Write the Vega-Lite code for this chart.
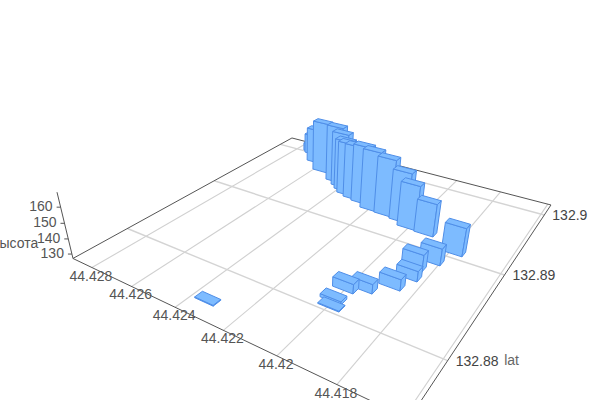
{"$schema":"https://vega.github.io/schema/vega-lite/v6.json","width":600,"height":400,"padding":0,"autosize":{"type":"none"},"config":{"view":{"stroke":null},"axis":{"disable":true},"legend":{"disable":true},"text":{"font":"Liberation Sans"}},
"datasets":{
"bars":[
{"lng":44.42724,"lat":132.90051,"h":133},{"lng":44.42705,"lat":132.90014,"h":142},{"lng":44.42643,"lat":132.89868,"h":152.6},{"lng":44.42564,"lat":132.8973,"h":164},{"lng":44.42457,"lat":132.89619,"h":167.5},{"lng":44.42411,"lat":132.89559,"h":166},{"lng":44.4238,"lat":132.89508,"h":163.3},{"lng":44.4235,"lat":132.89457,"h":164},{"lng":44.42308,"lat":132.89422,"h":164.9},{"lng":44.42262,"lat":132.89397,"h":167},{"lng":44.422,"lat":132.89332,"h":168},{"lng":44.42132,"lat":132.89322,"h":166},{"lng":44.42058,"lat":132.893,"h":161},{"lng":44.42007,"lat":132.89238,"h":157},{"lng":44.41932,"lat":132.89226,"h":149},{"lng":44.4179,"lat":132.89089,"h":145.6},{"lng":44.41833,"lat":132.88895,"h":138},{"lng":44.4187,"lat":132.88757,"h":137.8},{"lng":44.41859,"lat":132.88631,"h":133.7},{"lng":44.41884,"lat":132.88476,"h":134.2},{"lng":44.41953,"lat":132.88346,"h":133},{"lng":44.42005,"lat":132.88278,"h":133},{"lng":44.42008,"lat":132.88135,"h":129},{"lng":44.41995,"lat":132.88068,"h":127.5},{"lng":44.42343,"lat":132.87678,"h":127.5}
],
"ground":[
{"g":"l428","kind":"lnggrid","lng":44.428,"lat":132.875},{"g":"l428","kind":"lnggrid","lng":44.428,"lat":132.90203},
{"g":"l426","kind":"lnggrid","lng":44.426,"lat":132.875},{"g":"l426","kind":"lnggrid","lng":44.426,"lat":132.90203},
{"g":"l424","kind":"lnggrid","lng":44.424,"lat":132.875},{"g":"l424","kind":"lnggrid","lng":44.424,"lat":132.90203},
{"g":"l422","kind":"lnggrid","lng":44.422,"lat":132.875},{"g":"l422","kind":"lnggrid","lng":44.422,"lat":132.90203},
{"g":"l42","kind":"lnggrid","lng":44.42,"lat":132.875},{"g":"l42","kind":"lnggrid","lng":44.42,"lat":132.90203},
{"g":"l418","kind":"lnggrid","lng":44.418,"lat":132.875},{"g":"l418","kind":"lnggrid","lng":44.418,"lat":132.90203},
{"g":"l416","kind":"lnggrid","lng":44.416,"lat":132.875},{"g":"l416","kind":"lnggrid","lng":44.416,"lat":132.90203},
{"g":"a88","kind":"latgrid","lng":44.42903,"lat":132.88},{"g":"a88","kind":"latgrid","lng":44.41587,"lat":132.88},
{"g":"a89","kind":"latgrid","lng":44.42903,"lat":132.89},{"g":"a89","kind":"latgrid","lng":44.41587,"lat":132.89},
{"g":"a90","kind":"latgrid","lng":44.42903,"lat":132.9},{"g":"a90","kind":"latgrid","lng":44.41587,"lat":132.9},
{"g":"frame","kind":"frame","lng":44.41587,"lat":132.90203},{"g":"frame","kind":"frame","lng":44.42903,"lat":132.90203},{"g":"frame","kind":"frame","lng":44.42903,"lat":132.875},{"g":"frame","kind":"frame","lng":44.41587,"lat":132.875},{"g":"frame","kind":"frame","lng":44.41587,"lat":132.90203}
],
"lngTicks":[{"lng":44.428,"label":"44.428"},{"lng":44.426,"label":"44.426"},{"lng":44.424,"label":"44.424"},{"lng":44.422,"label":"44.422"},{"lng":44.42,"label":"44.42"},{"lng":44.418,"label":"44.418"}],
"latTicks":[{"lat":132.88,"label":"132.88"},{"lat":132.89,"label":"132.89"},{"lat":132.9,"label":"132.9"}],
"hTicks":[{"h":130,"label":"130"},{"h":140,"label":"140"},{"h":150,"label":"150"},{"h":160,"label":"160"}]
},
"layer":[
{"data":{"name":"ground"},"transform":[{"filter":"datum.kind=='lnggrid'"},{"calculate":"0.078+76*(44.428-datum.lng)","as":"s"},{"calculate":"0.185+37*(datum.lat-132.88)","as":"t"},{"calculate":"1-0.29346*datum.s+0.45819*datum.t","as":"w"},{"calculate":"(215.97*datum.s+352.79*datum.t+73)/datum.w","as":"px"},{"calculate":"(37.54*datum.s-57.27*datum.t+258.5)/datum.w","as":"py"}],"mark":{"type":"line","stroke":"#d0d0d0","strokeWidth":1.1,"clip":true},"encoding":{"x":{"field":"px","type":"quantitative","scale":{"domain":[0,600],"range":[0,600]},"axis":null},"y":{"field":"py","type":"quantitative","scale":{"domain":[0,400],"range":[0,400]},"axis":null},"detail":{"field":"g"}}},
{"data":{"name":"ground"},"transform":[{"filter":"datum.kind=='latgrid'"},{"calculate":"0.078+76*(44.428-datum.lng)","as":"s"},{"calculate":"0.185+37*(datum.lat-132.88)","as":"t"},{"calculate":"1-0.29346*datum.s+0.45819*datum.t","as":"w"},{"calculate":"(215.97*datum.s+352.79*datum.t+73)/datum.w","as":"px"},{"calculate":"(37.54*datum.s-57.27*datum.t+258.5)/datum.w","as":"py"}],"mark":{"type":"line","stroke":"#d4d4d4","strokeWidth":1.4,"clip":true},"encoding":{"x":{"field":"px","type":"quantitative","scale":{"domain":[0,600],"range":[0,600]},"axis":null},"y":{"field":"py","type":"quantitative","scale":{"domain":[0,400],"range":[0,400]},"axis":null},"detail":{"field":"g"}}},
{"data":{"name":"ground"},"transform":[{"filter":"datum.kind=='frame'"},{"window":[{"op":"row_number","as":"n"}]},{"calculate":"0.078+76*(44.428-datum.lng)","as":"s"},{"calculate":"0.185+37*(datum.lat-132.88)","as":"t"},{"calculate":"1-0.29346*datum.s+0.45819*datum.t","as":"w"},{"calculate":"(215.97*datum.s+352.79*datum.t+73)/datum.w","as":"px"},{"calculate":"(37.54*datum.s-57.27*datum.t+258.5)/datum.w","as":"py"}],"mark":{"type":"line","stroke":"#555555","strokeWidth":1,"clip":true},"encoding":{"x":{"field":"px","type":"quantitative","scale":{"domain":[0,600],"range":[0,600]},"axis":null},"y":{"field":"py","type":"quantitative","scale":{"domain":[0,400],"range":[0,400]},"axis":null},"order":{"field":"n"}}},
{"data":{"values":[{"h":127},{"h":169}]},"transform":[{"calculate":"(datum.h-127)/42","as":"z"},{"calculate":"1-0.0658*datum.z","as":"w"},{"calculate":"(73-19.74*datum.z)/datum.w","as":"px"},{"calculate":"(258.5-78.96*datum.z)/datum.w","as":"py"}],"mark":{"type":"line","stroke":"#555555","strokeWidth":1},"encoding":{"x":{"field":"px","type":"quantitative","scale":{"domain":[0,600],"range":[0,600]},"axis":null},"y":{"field":"py","type":"quantitative","scale":{"domain":[0,400],"range":[0,400]},"axis":null}}},
{"data":{"name":"hTicks"},"transform":[{"calculate":"(datum.h-127)/42","as":"z"},{"calculate":"1-0.0658*datum.z","as":"w"},{"calculate":"(73-19.74*datum.z)/datum.w","as":"px"},{"calculate":"datum.px-4","as":"px2"},{"calculate":"(258.5-78.96*datum.z)/datum.w","as":"py"}],"mark":{"type":"rule","stroke":"#555555","strokeWidth":1},"encoding":{"x":{"field":"px","type":"quantitative","scale":{"domain":[0,600],"range":[0,600]},"axis":null},"x2":{"field":"px2"},"y":{"field":"py","type":"quantitative","scale":{"domain":[0,400],"range":[0,400]},"axis":null}}},
{"data":{"name":"hTicks"},"transform":[{"calculate":"(datum.h-127)/42","as":"z"},{"calculate":"1-0.0658*datum.z","as":"w"},{"calculate":"(73-19.74*datum.z)/datum.w","as":"px"},{"calculate":"(258.5-78.96*datum.z)/datum.w","as":"py"}],"mark":{"type":"text","align":"right","baseline":"middle","dx":-8,"font":"Liberation Sans","fontSize":14,"fill":"#555555"},"encoding":{"x":{"field":"px","type":"quantitative","scale":{"domain":[0,600],"range":[0,600]},"axis":null},"y":{"field":"py","type":"quantitative","scale":{"domain":[0,400],"range":[0,400]},"axis":null},"text":{"field":"label"}}},
{"data":{"values":[{"h":140,"label":"высота"}]},"transform":[{"calculate":"(datum.h-127)/42","as":"z"},{"calculate":"1-0.0658*datum.z","as":"w"},{"calculate":"(73-19.74*datum.z)/datum.w","as":"px"},{"calculate":"(258.5-78.96*datum.z)/datum.w","as":"py"}],"mark":{"type":"text","align":"right","baseline":"middle","dx":-30,"dy":5,"font":"Liberation Sans","fontSize":14,"fill":"#555555"},"encoding":{"x":{"field":"px","type":"quantitative","scale":{"domain":[0,600],"range":[0,600]},"axis":null},"y":{"field":"py","type":"quantitative","scale":{"domain":[0,400],"range":[0,400]},"axis":null},"text":{"field":"label"}}},
{"data":{"name":"lngTicks"},"transform":[{"calculate":"0.078+76*(44.428-datum.lng)","as":"s"},{"calculate":"1-0.29346*datum.s","as":"w"},{"calculate":"(215.97*datum.s+73)/datum.w","as":"px"},{"calculate":"(37.54*datum.s+258.5)/datum.w","as":"py"}],"mark":{"type":"text","align":"center","baseline":"middle","dy":9,"dx":-1,"font":"Liberation Sans","fontSize":14,"fill":"#555555"},"encoding":{"x":{"field":"px","type":"quantitative","scale":{"domain":[0,600],"range":[0,600]},"axis":null},"y":{"field":"py","type":"quantitative","scale":{"domain":[0,400],"range":[0,400]},"axis":null},"text":{"field":"label"}}},
{"data":{"name":"latTicks"},"transform":[{"calculate":"0.185+37*(datum.lat-132.88)","as":"t"},{"calculate":"0.70654+0.45819*datum.t","as":"w"},{"calculate":"(288.97+352.79*datum.t)/datum.w","as":"px"},{"calculate":"(296.04-57.27*datum.t)/datum.w","as":"py"}],"mark":{"type":"text","align":"left","baseline":"middle","dx":8,"dy":1,"font":"Liberation Sans","fontSize":14,"fill":"#444444"},"encoding":{"x":{"field":"px","type":"quantitative","scale":{"domain":[0,600],"range":[0,600]},"axis":null},"y":{"field":"py","type":"quantitative","scale":{"domain":[0,400],"range":[0,400]},"axis":null},"text":{"field":"label"}}},
{"data":{"values":[{"lat":132.88,"label":"lat"}]},"transform":[{"calculate":"0.185+37*(datum.lat-132.88)","as":"t"},{"calculate":"0.70654+0.45819*datum.t","as":"w"},{"calculate":"(288.97+352.79*datum.t)/datum.w","as":"px"},{"calculate":"(296.04-57.27*datum.t)/datum.w","as":"py"}],"mark":{"type":"text","align":"left","baseline":"middle","dx":56.5,"font":"Liberation Sans","fontSize":14,"fill":"#666666"},"encoding":{"x":{"field":"px","type":"quantitative","scale":{"domain":[0,600],"range":[0,600]},"axis":null},"y":{"field":"py","type":"quantitative","scale":{"domain":[0,400],"range":[0,400]},"axis":null},"text":{"field":"label"}}},
{"data":{"name":"bars"},"transform":[
{"calculate":"[{f:'a',v:0,a:-1,b:-1,c:0},{f:'a',v:1,a:1,b:-1,c:0},{f:'a',v:2,a:1,b:-1,c:1},{f:'a',v:3,a:-1,b:-1,c:1},{f:'a',v:4,a:-1,b:-1,c:0},{f:'b',v:0,a:1,b:-1,c:0},{f:'b',v:1,a:1,b:1,c:0},{f:'b',v:2,a:1,b:1,c:1},{f:'b',v:3,a:1,b:-1,c:1},{f:'b',v:4,a:1,b:-1,c:0},{f:'c',v:0,a:-1,b:-1,c:1},{f:'c',v:1,a:1,b:-1,c:1},{f:'c',v:2,a:1,b:1,c:1},{f:'c',v:3,a:-1,b:1,c:1},{f:'c',v:4,a:-1,b:-1,c:1}]","as":"corner"},
{"flatten":["corner"]},
{"calculate":"datum.lng+'|'+datum.lat+'|'+datum.corner.f","as":"key"},
{"calculate":"datum.corner.v","as":"vertex"},
{"calculate":"0.078+76*(44.428-datum.lng)+0.03*datum.corner.a","as":"s"},
{"calculate":"0.185+37*(datum.lat-132.88)+0.0135*datum.corner.b","as":"t"},
{"calculate":"datum.corner.c*(datum.h-127)/42","as":"z"},
{"calculate":"1-0.29346*datum.s+0.45819*datum.t-0.0658*datum.z","as":"w"},
{"calculate":"(215.97*datum.s+352.79*datum.t+73-19.74*datum.z)/datum.w","as":"px"},
{"calculate":"(37.54*datum.s-57.27*datum.t+258.5-78.96*datum.z)/datum.w","as":"py"}],
"mark":{"type":"line","fill":"#7dbbff","stroke":"#4f8ee8","strokeWidth":1,"strokeJoin":"round","clip":true},
"encoding":{"x":{"field":"px","type":"quantitative","scale":{"domain":[0,600],"range":[0,600]},"axis":null},"y":{"field":"py","type":"quantitative","scale":{"domain":[0,400],"range":[0,400]},"axis":null},"detail":{"field":"key"},"order":{"field":"vertex"}}}
]}
